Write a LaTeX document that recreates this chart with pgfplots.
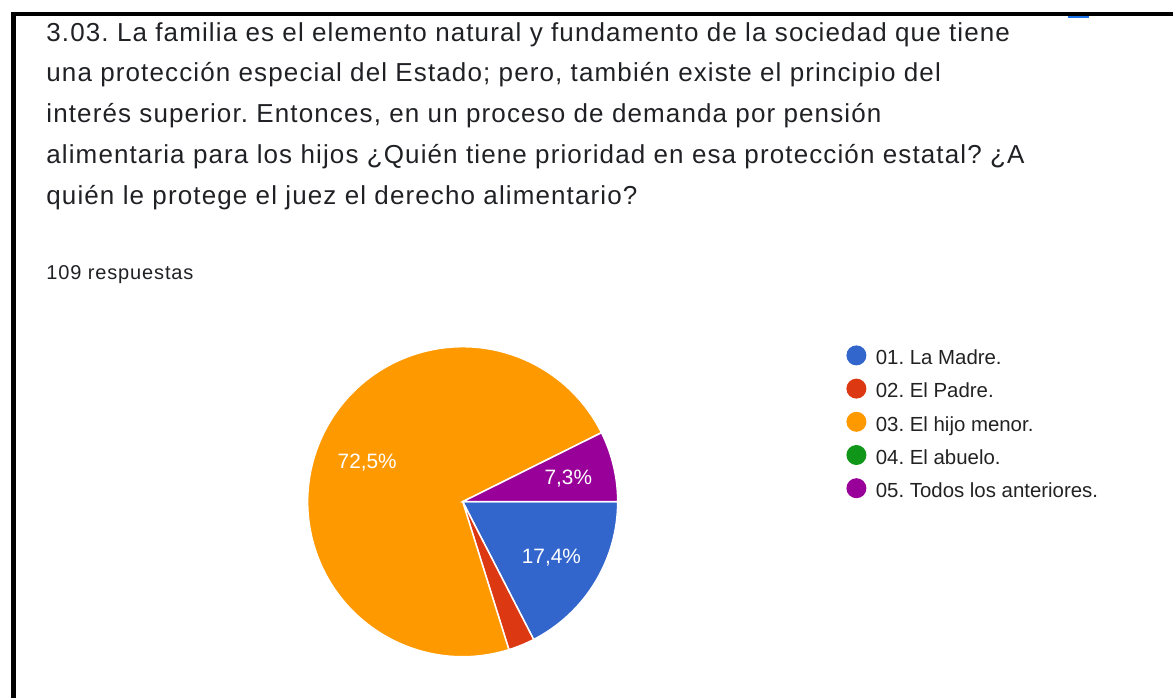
\documentclass[border=0pt]{standalone}
\usepackage{pgfplots}
\pgfplotsset{compat=1.18}
\usepackage{pgfplotstable}
\usepackage{fontspec}
\setmainfont{Liberation Sans}
\newfontfamily\titlefont[LetterSpace=4.3]{Liberation Sans}
\definecolor{cMadre}{HTML}{3366CC}
\definecolor{cPadre}{HTML}{DC3912}
\definecolor{cHijo}{HTML}{FF9900}
\definecolor{cAbuelo}{HTML}{109618}
\definecolor{cTodos}{HTML}{990099}
\definecolor{titlegray}{HTML}{202124}
\definecolor{leggray}{HTML}{222222}
\definecolor{gblue}{HTML}{1A73E8}

\pgfplotstableread{
slice count
1 19
2 3
3 79
4 0
5 8
}\piedata

\pgfplotstablegetelem{0}{count}\of\piedata \edef\cA{\pgfplotsretval}
\pgfplotstablegetelem{1}{count}\of\piedata \edef\cB{\pgfplotsretval}
\pgfplotstablegetelem{2}{count}\of\piedata \edef\cC{\pgfplotsretval}
\pgfplotstablegetelem{3}{count}\of\piedata \edef\cD{\pgfplotsretval}
\pgfplotstablegetelem{4}{count}\of\piedata \edef\cE{\pgfplotsretval}
\pgfmathsetmacro\total{\cA+\cB+\cC+\cD+\cE}
\pgfmathsetmacro\aA{-360*(\cA/\total)}
\pgfmathsetmacro\aB{\aA-360*(\cB/\total)}
\pgfmathsetmacro\aC{\aB-360*(\cC/\total)}
\pgfmathsetmacro\aD{\aC-360*(\cD/\total)}
\pgfmathsetmacro\aE{\aD-360*(\cE/\total)}
\pgfmathsetmacro\mA{\aA/2}
\pgfmathsetmacro\mC{(\aB+\aC)/2}
\pgfmathsetmacro\mE{(\aD+\aE)/2}

\begin{document}
\frenchspacing
\begin{tikzpicture}
\path[use as bounding box] (0,0) rectangle (586.5pt,-349pt);
% frame
\draw[line width=2.2pt, black] (6.75pt,-349pt) -- (6.75pt,-7pt) -- (586.5pt,-7pt);
\fill[gblue] (534pt,-8.1pt) rectangle (544.5pt,-9pt);
% title
\begin{scope}[every node/.style={anchor=base west, inner sep=0pt, text=titlegray, font=\titlefont\fontsize{13}{15}\selectfont}]
\node at (23pt,-20.5pt) {3.03. La familia es el elemento natural y fundamento de la sociedad que tiene};
\node at (23pt,-40.75pt) {una protección especial del Estado; pero, también existe el principio del};
\node at (23pt,-61.25pt) {interés superior. Entonces, en un proceso de demanda por pensión};
\node at (23pt,-81.75pt) {alimentaria para los hijos ¿Quién tiene prioridad en esa protección estatal? ¿A};
\node at (23pt,-102.25pt) {quién le protege el juez el derecho alimentario?};
\end{scope}
\node[anchor=base west, inner sep=0pt, text=titlegray, font=\titlefont\fontsize{10}{12}\selectfont] at (23pt,-139.5pt) {109 respuestas};

\begin{axis}[
  at={(231.35pt,-250.85pt)}, anchor=center,
  width=155pt, height=155pt, scale only axis,
  xmin=-1, xmax=1, ymin=-1, ymax=1,
  hide axis, clip=false,
  legend style={at={(1.7365,1.0055)}, anchor=north west, draw=none, fill=none,
    inner sep=0pt, row sep=4.3pt, column sep=4.7pt,
    font=\fontsize{10.2}{12}\selectfont, text=leggray,
    nodes={inner sep=0pt, text height=7.3pt, text depth=2.7pt}},
  legend cell align=left,
  legend image code/.code={\fill[#1] (5pt,2.3pt) circle (5pt);},
]
\fill[cMadre, draw=white, line width=0.75pt] (0,0) -- (1,0) arc[start angle=0, end angle=\aA, radius=77.5pt] -- cycle;
\fill[cPadre, draw=white, line width=0.75pt] (0,0) -- ({cos(\aA)},{sin(\aA)}) arc[start angle=\aA, end angle=\aB, radius=77.5pt] -- cycle;
\fill[cHijo, draw=white, line width=0.75pt] (0,0) -- ({cos(\aB)},{sin(\aB)}) arc[start angle=\aB, end angle=\aC, radius=77.5pt] -- cycle;
\fill[cTodos, draw=white, line width=0.75pt] (0,0) -- ({cos(\aD)},{sin(\aD)}) arc[start angle=\aD, end angle=\aE, radius=77.5pt] -- cycle;
\node[text=white, font=\fontsize{10.4}{12}\selectfont] at ({0.67*cos(\mA)},{0.67*sin(\mA)-0.01}) {17,4\%};
\node[text=white, font=\fontsize{10.4}{12}\selectfont] at ({0.67*cos(\mC)},{0.67*sin(\mC)-0.01}) {72,5\%};
\node[text=white, font=\fontsize{10.4}{12}\selectfont] at ({0.70*cos(\mE)},{0.70*sin(\mE)-0.01}) {7,3\%};
\addlegendimage{fill=cMadre, draw=none}
\addlegendentry{01. La Madre.}
\addlegendimage{fill=cPadre, draw=none}
\addlegendentry{02. El Padre.}
\addlegendimage{fill=cHijo, draw=none}
\addlegendentry{03. El hijo menor.}
\addlegendimage{fill=cAbuelo, draw=none}
\addlegendentry{04. El abuelo.}
\addlegendimage{fill=cTodos, draw=none}
\addlegendentry{05. Todos los anteriores.}
\end{axis}
\end{tikzpicture}
\end{document}
